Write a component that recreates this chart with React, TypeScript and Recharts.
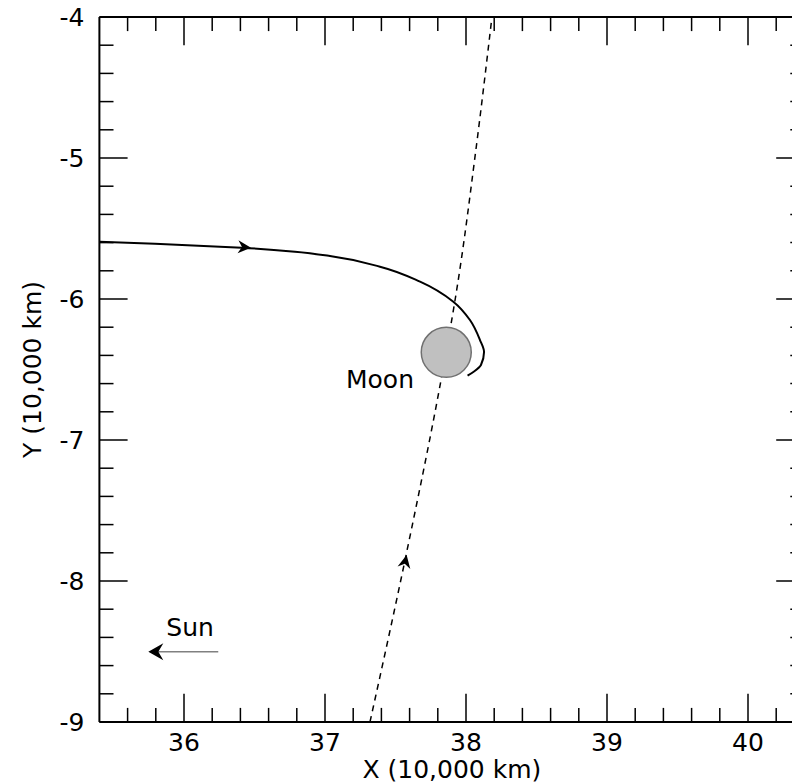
import React from 'react';
import { ComposedChart, Line, Scatter, XAxis, YAxis, ReferenceDot, ReferenceLine } from 'recharts';

// axis ticks (units of 10,000 km)
const majorX = [36, 37, 38, 39, 40];
const minorX = [35.6, 35.8, 36.2, 36.4, 36.6, 36.8, 37.2, 37.4, 37.6, 37.8, 38.2, 38.4, 38.6, 38.8, 39.2, 39.4, 39.6, 39.8, 40.2];
const majorY = [-4, -5, -6, -7, -8, -9];
const minorY = [-4.2, -4.4, -4.6, -4.8, -5.2, -5.4, -5.6, -5.8, -6.2, -6.4, -6.6, -6.8, -7.2, -7.4, -7.6, -7.8, -8.2, -8.4, -8.6, -8.8];

// solid trajectory, comes in from the left and hooks round the moon
const capturePath = [
    { x: 35.4, y: -5.594 },
    { x: 35.794, y: -5.608 },
    { x: 36.409, y: -5.636 },
    { x: 36.787, y: -5.665 },
    { x: 37.035, y: -5.695 },
    { x: 37.39, y: -5.771 },
    { x: 37.674, y: -5.877 },
    { x: 37.91, y: -6.019 },
    { x: 38.028, y: -6.149 },
    { x: 38.099, y: -6.291 },
    { x: 38.128, y: -6.376 },
    { x: 38.106, y: -6.468 },
    { x: 38.057, y: -6.514 },
    { x: 38.011, y: -6.543 },
];

// dashed flyby trajectory, bottom to top
const flybyPath = [
    { x: 37.319, y: -9.0 },
    { x: 37.575, y: -7.816 },
    { x: 37.823, y: -6.574 },
    { x: 37.934, y: -5.936 },
    { x: 38.07, y: -4.943 },
    { x: 38.184, y: -4.0 },
];

const sunLine = [
    { x: 36.243, y: -8.501 },
    { x: 35.76, y: -8.501 },
];

// arrow tips, angle = direction on screen in degrees
const pathArrows = [
    { x: 36.475, y: -5.636, angle: 4 },
    { x: 37.579, y: -7.816, angle: -78 },
];
const sunArrow = [{ x: 35.747, y: -8.501, angle: 180 }];

const moon = { x: 37.86, y: -6.378 };

const notes = [
    { x: 37.39, y: -6.574, text: 'Moon' },
    { x: 36.043, y: -8.333, text: 'Sun' },
];

const X_MIN = 35.4;
const X_MAX = 40.4;
const Y_MIN = -9;
const Y_MAX = -4;
const MAJOR_LEN = 0.2; // inward tick length, data units
const MINOR_LEN = 0.1;

const FONT = 'DejaVu Sans';
const tickFont = { fill: '#000', fontSize: 25, fontFamily: FONT };

const arrowShape = (p: any) => (
    <path
        d="M0,0 L-13,-6.5 L-9,0 L-13,6.5 Z"
        transform={`translate(${p.cx},${p.cy}) rotate(${p.payload.angle})`}
        fill="#000"
    />
);

const sunArrowShape = (p: any) => (
    <path
        d="M0,0 L-15,-8.5 L-10,0 L-15,8.5 Z"
        transform={`translate(${p.cx},${p.cy}) rotate(${p.payload.angle})`}
        fill="#000"
    />
);

const noteShape = (p: any) => (
    <text
        x={p.cx}
        y={p.cy}
        textAnchor="middle"
        dominantBaseline="central"
        fontSize={25}
        fontFamily={FONT}
        fill="#000"
    >
        {p.payload.text}
    </text>
);

const yTitle = (props: any) => {
    const vb = props.viewBox;
    const cx = vb.x + 32;
    const cy = vb.y + vb.height / 2;
    return (
        <text
            x={cx}
            y={cy}
            transform={`rotate(-90, ${cx}, ${cy})`}
            textAnchor="middle"
            dominantBaseline="central"
            fontSize={25}
            fontFamily={FONT}
            fill="#000"
        >
            Y (10,000 km)
        </text>
    );
};

// inward tick marks on all four sides
const tickSegments = () => {
    const segs: { key: string; seg: { x: number; y: number }[] }[] = [];
    const addX = (vals: number[], len: number, tag: string) =>
        vals.forEach((v) => {
            segs.push({ key: `b${tag}${v}`, seg: [{ x: v, y: Y_MIN }, { x: v, y: Y_MIN + len }] });
            segs.push({ key: `t${tag}${v}`, seg: [{ x: v, y: Y_MAX }, { x: v, y: Y_MAX - len }] });
        });
    const addY = (vals: number[], len: number, tag: string) =>
        vals.forEach((v) => {
            segs.push({ key: `l${tag}${v}`, seg: [{ x: X_MIN, y: v }, { x: X_MIN + len, y: v }] });
            segs.push({ key: `r${tag}${v}`, seg: [{ x: X_MAX, y: v }, { x: X_MAX - len, y: v }] });
        });
    addX(majorX, MAJOR_LEN, 'M');
    addX(minorX, MINOR_LEN, 'm');
    addY(majorY, MAJOR_LEN, 'M');
    addY(minorY, MINOR_LEN, 'm');
    return segs;
};

export default function App() {
    return (
        <div style={{ position: 'absolute', left: 0, top: 0, width: 792, height: 784, overflow: 'hidden', background: '#fff' }}>
            <ComposedChart width={830} height={784} margin={{ top: 17, right: 25.6, bottom: 0, left: 0 }}>
                <XAxis
                    xAxisId="b"
                    dataKey="x"
                    type="number"
                    domain={[X_MIN, X_MAX]}
                    allowDataOverflow
                    ticks={majorX}
                    interval={0}
                    height={62}
                    tickSize={0}
                    tickMargin={11}
                    tick={tickFont}
                    tickLine={false}
                    axisLine={{ stroke: '#000', strokeWidth: 2 }}
                    label={{ value: 'X (10,000 km)', position: 'insideBottom', offset: 6, fill: '#000', fontSize: 25, fontFamily: FONT }}
                />
                <YAxis
                    yAxisId="l"
                    dataKey="y"
                    type="number"
                    domain={[Y_MIN, Y_MAX]}
                    allowDataOverflow
                    ticks={majorY}
                    interval={0}
                    width={99.4}
                    tickSize={0}
                    tickMargin={15}
                    tick={tickFont}
                    tickLine={false}
                    axisLine={{ stroke: '#000', strokeWidth: 2 }}
                    label={{ content: yTitle }}
                />

                {/* top and right frame */}
                <ReferenceLine xAxisId="b" yAxisId="l" y={Y_MAX} stroke="#000" strokeWidth={2} ifOverflow="visible" />
                <ReferenceLine xAxisId="b" yAxisId="l" x={X_MAX} stroke="#000" strokeWidth={2} ifOverflow="visible" />

                {tickSegments().map((t) => (
                    <ReferenceLine
                        key={t.key}
                        xAxisId="b"
                        yAxisId="l"
                        segment={t.seg}
                        stroke="#000"
                        strokeWidth={1.5}
                        ifOverflow="visible"
                    />
                ))}

                <Line
                    xAxisId="b"
                    yAxisId="l"
                    data={flybyPath}
                    dataKey="y"
                    type="monotoneY"
                    stroke="#000"
                    strokeWidth={1.5}
                    strokeDasharray="6 5"
                    dot={false}
                    activeDot={false}
                    isAnimationActive={false}
                />
                <Line
                    xAxisId="b"
                    yAxisId="l"
                    data={capturePath}
                    dataKey="y"
                    type="monotoneY"
                    stroke="#000"
                    strokeWidth={2}
                    dot={false}
                    activeDot={false}
                    isAnimationActive={false}
                />
                <Line
                    xAxisId="b"
                    yAxisId="l"
                    data={sunLine}
                    dataKey="y"
                    type="linear"
                    stroke="#808080"
                    strokeWidth={1.5}
                    dot={false}
                    activeDot={false}
                    isAnimationActive={false}
                />

                <ReferenceDot
                    xAxisId="b"
                    yAxisId="l"
                    x={moon.x}
                    y={moon.y}
                    r={25}
                    fill="#c0c0c0"
                    stroke="#707070"
                    strokeWidth={1.5}
                />

                <Scatter xAxisId="b" yAxisId="l" data={pathArrows} shape={arrowShape} isAnimationActive={false} />
                <Scatter xAxisId="b" yAxisId="l" data={sunArrow} shape={sunArrowShape} isAnimationActive={false} />
                <Scatter xAxisId="b" yAxisId="l" data={notes} shape={noteShape} isAnimationActive={false} />
            </ComposedChart>
        </div>
    );
}
